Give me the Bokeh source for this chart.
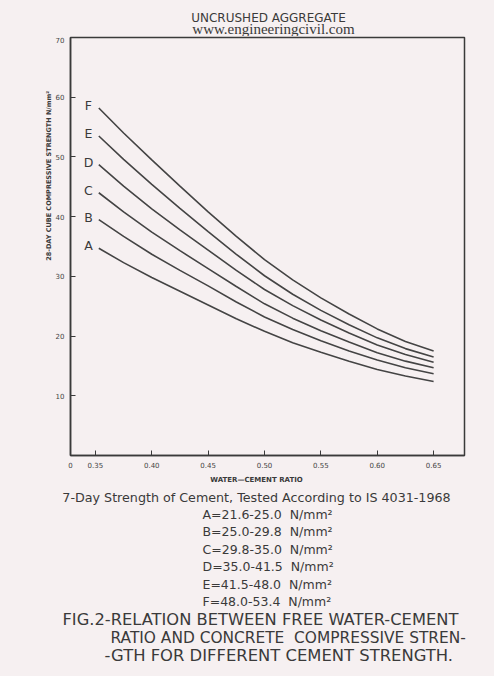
from bokeh.plotting import figure
from bokeh.models import FixedTicker, Range1d
from bokeh.layouts import column, row
from bokeh.core.properties import value
from bokeh.embed import file_html
from bokeh.resources import INLINE
import math

# ---- data ----
wc = [0.353, 0.375, 0.40, 0.425, 0.45, 0.475, 0.50, 0.525, 0.55, 0.575, 0.60, 0.625, 0.65]
curve_F = [58.2, 54.0, 49.5, 45.1, 40.8, 36.7, 32.8, 29.4, 26.4, 23.7, 21.2, 19.1, 17.5]
curve_E = [53.5, 49.6, 45.4, 41.4, 37.5, 33.7, 30.1, 27.0, 24.3, 21.9, 19.7, 17.9, 16.5]
curve_D = [48.7, 45.1, 41.3, 37.8, 34.4, 31.0, 27.8, 25.1, 22.7, 20.5, 18.5, 16.9, 15.6]
curve_C = [44.0, 40.8, 37.4, 34.3, 31.3, 28.3, 25.4, 23.0, 20.9, 19.0, 17.2, 15.8, 14.7]
curve_B = [39.5, 36.7, 33.7, 31.0, 28.4, 25.7, 23.2, 21.1, 19.2, 17.5, 16.0, 14.7, 13.7]
curve_A = [34.7, 32.3, 29.8, 27.5, 25.2, 22.9, 20.8, 18.9, 17.3, 15.8, 14.4, 13.3, 12.4]
curve_names = ["F", "E", "D", "C", "B", "A"]
curves = [curve_F, curve_E, curve_D, curve_C, curve_B, curve_A]

x_ticks = [0.35, 0.40, 0.45, 0.50, 0.55, 0.60, 0.65]
x_tick_labels = ["0.35", "0.40", "0.45", "0.50", "0.55", "0.60", "0.65"]
y_ticks = [10, 20, 30, 40, 50, 60, 70]

title_top = "UNCRUSHED AGGREGATE"
site = "www.engineeringcivil.com"
y_label = "28-DAY CUBE COMPRESSIVE STRENGTH N/mm\u00b2"
x_label = "WATER\u2014CEMENT RATIO"
subtitle = "7-Day Strength of Cement, Tested According to IS 4031-1968"
legend_lines = [
    "A=21.6-25.0 \u00a0N/mm\u00b2",
    "B=25.0-29.8 \u00a0N/mm\u00b2",
    "C=29.8-35.0 \u00a0N/mm\u00b2",
    "D=35.0-41.5 \u00a0N/mm\u00b2",
    "E=41.5-48.0 \u00a0N/mm\u00b2",
    "F=48.0-53.4 \u00a0N/mm\u00b2",
]
caption_lines = [
    "FIG.2-RELATION BETWEEN FREE WATER-CEMENT",
    "RATIO AND CONCRETE \u00a0COMPRESSIVE STREN-",
    "-GTH FOR DIFFERENT CEMENT STRENGTH.",
]

# ---- layout (page pixels) ----
W = 494
TOP_H = 36            # strip above the chart
LEFT_W = 52           # strip holding the rotated axis title
MID_H = 435           # chart row height
BOT_H = 205           # caption strip
FRAME_L, FRAME_R = 69, 464
FRAME_T, FRAME_B = 37, 455
X0, X1 = 0.3279, 0.6774

BG = "#f6f0f1"
INK = "#3a3a3a"
FONT = "DejaVu Sans"


def strip(w, h):
    f = figure(width=w, height=h, output_backend="svg", toolbar_location=None,
               x_range=Range1d(0, w), y_range=Range1d(0, h),
               x_axis_type=None, y_axis_type=None,
               min_border=0, min_border_left=0, min_border_right=0,
               min_border_top=0, min_border_bottom=0)
    f.grid.visible = False
    f.outline_line_color = None
    f.background_fill_color = BG
    f.border_fill_color = BG
    return f


def put(f, h, x, y, text, size, align="center", font=FONT, style="normal", angle=0.0):
    f.text(x=[x], y=[h - y], text=[text], text_font=value(font), text_font_size=size,
           text_align=align, text_baseline="middle", text_font_style=style,
           angle=angle, text_color=INK)


# top strip
top = strip(W, TOP_H)
put(top, TOP_H, 268, 17, title_top, "12px")
put(top, TOP_H, 273, 28.5, site, "15px", font="Liberation Serif")

# left strip with the rotated axis title
left = strip(LEFT_W, MID_H)
put(left, MID_H, 48, 180 - TOP_H, y_label, "6.5px", style="bold", angle=math.pi / 2)

# main chart
MW = W - LEFT_W
p = figure(width=MW, height=MID_H, output_backend="svg", toolbar_location=None,
           x_range=Range1d(X0, X1), y_range=Range1d(0, 70),
           min_border_left=FRAME_L - LEFT_W, min_border_right=MW - (FRAME_R - LEFT_W),
           min_border_top=FRAME_T - TOP_H, min_border_bottom=MID_H - (FRAME_B - TOP_H))
p.background_fill_color = BG
p.border_fill_color = BG
p.grid.visible = False
p.outline_line_color = INK
p.outline_line_width = 1.5

for ax in (p.xaxis[0], p.yaxis[0]):
    ax.axis_line_color = INK
    ax.axis_line_width = 1.5
    ax.major_tick_in = 5
    ax.major_tick_out = 0
    ax.minor_tick_line_color = None
    ax.major_tick_line_color = INK
    ax.major_label_text_font = FONT
    ax.major_label_text_font_size = "7px"
    ax.major_label_text_color = "#444444"

p.xaxis[0].ticker = FixedTicker(ticks=[X0] + x_ticks)
p.xaxis[0].major_label_overrides = {X0: "0", **{t: l for t, l in zip(x_ticks, x_tick_labels)}}
p.xaxis[0].major_label_standoff = 6
p.yaxis[0].ticker = FixedTicker(ticks=y_ticks)
p.yaxis[0].major_label_standoff = 6

label_x = X0 + (87 - FRAME_L) / (FRAME_R - FRAME_L) * (X1 - X0)
for name, ys in zip(curve_names, curves):
    p.line(wc, ys, line_color="#444444", line_width=1.6)
    p.text(x=[label_x], y=[ys[0] + 0.4], text=[name], text_font=value(FONT),
           text_font_size="12.5px", text_color=INK, text_align="center", text_baseline="middle")

# caption strip
bot = strip(W, BOT_H)
B0 = TOP_H + MID_H
put(bot, BOT_H, 256, 479 - B0, x_label, "7px", style="bold")
put(bot, BOT_H, 256, 497 - B0, subtitle, "12.7px")
for i, t in enumerate(legend_lines):
    put(bot, BOT_H, 202, 513.5 + i * 17.5 - B0, t, "12.5px", align="left")
put(bot, BOT_H, 62, 619 - B0, caption_lines[0], "16.3px", align="left")
put(bot, BOT_H, 110, 637 - B0, caption_lines[1], "15.4px", align="left")
put(bot, BOT_H, 104, 655 - B0, caption_lines[2], "16.4px", align="left")

layout = column(top, row(left, p, styles={"background-color": BG}),
                bot, styles={"background-color": BG})
open("out.html", "w").write(file_html(layout, INLINE))
